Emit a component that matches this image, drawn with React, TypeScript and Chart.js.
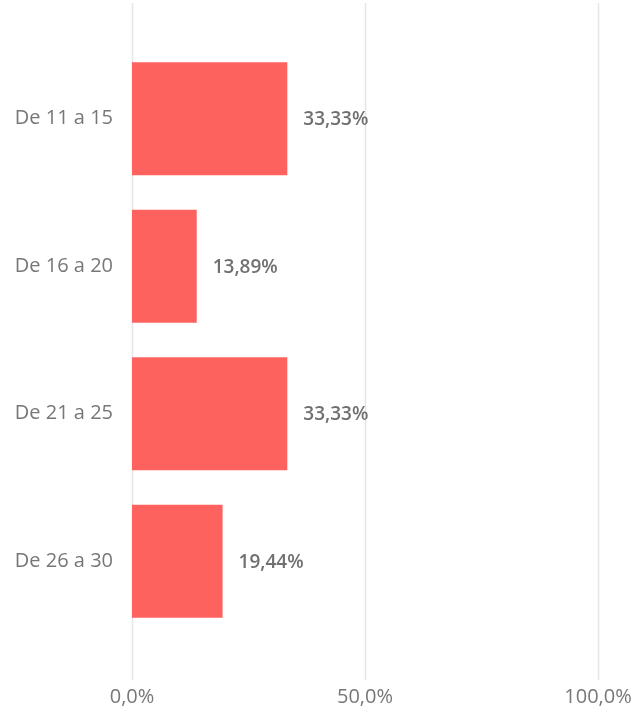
import React, { useEffect, useRef } from "react";
import { Chart, registerables } from "chart.js";

Chart.register(...registerables);

const categories = ["De 11 a 15", "De 16 a 20", "De 21 a 25", "De 26 a 30"];
const values = [33.33, 13.89, 33.33, 19.44];
const valueLabels = ["33,33%", "13,89%", "33,33%", "19,44%"];
const xTickValues = [0, 50, 100];
const xTickLabels = ["0,0%", "50,0%", "100,0%"];

const FONT = "'Open Sans', 'Noto Sans', sans-serif";

const gridPlugin = {
  id: "fullGrid",
  beforeDatasetsDraw(chart: any) {
    const ctx = chart.ctx;
    const xs = chart.scales.x;
    ctx.save();
    ctx.strokeStyle = "#e6e6e6";
    ctx.lineWidth = 1.5;
    xTickValues.forEach((v) => {
      const px = Math.round(xs.getPixelForValue(v)) + 0.5;
      ctx.beginPath();
      ctx.moveTo(px, 3);
      ctx.lineTo(px, 680);
      ctx.stroke();
    });
    ctx.restore();
  },
};

const labelPlugin = {
  id: "valueLabels",
  afterDatasetsDraw(chart: any) {
    const ctx = chart.ctx;
    const meta = chart.getDatasetMeta(0);
    ctx.save();
    ctx.font = `600 19px ${FONT}`;
    ctx.fillStyle = "#707070";
    ctx.textAlign = "left";
    ctx.textBaseline = "middle";
    meta.data.forEach((bar: any, i: number) => {
      ctx.fillText(valueLabels[i], bar.x + 16, bar.y + 1);
    });
    ctx.restore();
  },
};

export default function App() {
  const ref = useRef<HTMLCanvasElement>(null);
  useEffect(() => {
    document.body.style.margin = "0";
    const chart = new Chart(ref.current!, {
      type: "bar",
      data: {
        labels: categories,
        datasets: [
          {
            data: values,
            backgroundColor: "#FD625E",
            barPercentage: 0.766,
            categoryPercentage: 1,
          },
        ],
      },
      options: {
        indexAxis: "y",
        animation: false,
        responsive: false,
        layout: { padding: { top: 45, right: 0, left: 0, bottom: 0 } },
        plugins: { legend: { display: false }, tooltip: { enabled: false } },
        scales: {
          x: {
            min: 0,
            max: 100,
            afterBuildTicks: (s: any) => {
              s.ticks = xTickValues.map((v) => ({ value: v }));
            },
            afterFit: (s: any) => {
              s.height = 77;
              s.paddingRight = 36;
              s.paddingLeft = 0;
            },
            grid: { display: false, drawTicks: false },
            border: { display: false },
            ticks: {
              padding: 50,
              color: "#777",
              font: { family: FONT, size: 20 },
              callback: (v: any) => xTickLabels[xTickValues.indexOf(Number(v))] ?? "",
            },
          },
          y: {
            afterFit: (s: any) => {
              s.width = 132;
            },
            grid: { display: false, drawTicks: false },
            border: { display: false },
            ticks: {
              padding: 19,
              color: "#777",
              font: { family: FONT, size: 20 },
            },
          },
        },
      },
      plugins: [gridPlugin, labelPlugin],
    });
    return () => chart.destroy();
  }, []);
  return (
    <div style={{ position: "absolute", left: 0, top: 0, width: 634, height: 712 }}>
      <canvas ref={ref} width={634} height={712} style={{ width: 634, height: 712 }} />
    </div>
  );
}
